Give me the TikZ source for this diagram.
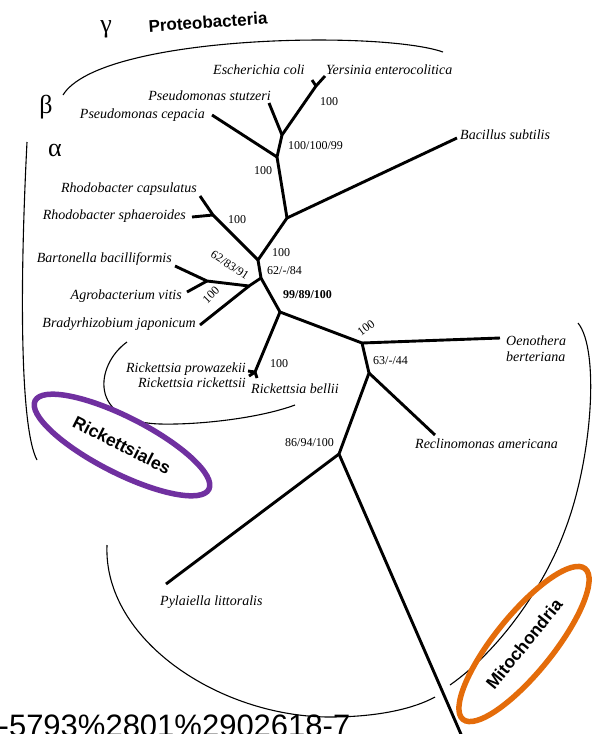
\documentclass[tikz,border=0pt]{standalone}
\usepackage{fontspec}
\setmainfont{Liberation Serif}
\setsansfont{Liberation Sans}
\usetikzlibrary{shapes.geometric}
\definecolor{cladepurple}{RGB}{112,48,160}
\definecolor{cladeorange}{RGB}{228,108,10}
\begin{document}
\begin{tikzpicture}[x=1pt,y=-1pt,
  branch/.style={line width=2.9pt,line join=round},
  bracket/.style={line width=1.1pt},
  taxon/.style={inner sep=0pt,font=\fontsize{14}{16}\selectfont\itshape},
  boot/.style={inner sep=0pt,font=\fontsize{12}{14}\selectfont},
  greek/.style={inner sep=0pt,font=\fontsize{26}{28}\selectfont},
  clade/.style={draw,ellipse,line width=5.5pt,inner sep=0pt,
    font=\fontsize{17.5}{19}\selectfont\sffamily\bfseries},
]
\fill[white] (0,0) rectangle (592,734);
\useasboundingbox (0,0) rectangle (592,734);

% ---- group brackets ----
\draw[bracket] (63,95) .. controls (100,35) and (380,30) .. (443,52);
\draw[bracket] (27,142) .. controls (19,300) and (21,430) .. (37,460);
\draw[bracket] (127,342) .. controls (95,365) and (88,422) .. (160,424)
               .. controls (200,425) and (260,418) .. (295,405);
\draw[bracket] (578,323) .. controls (600,350) and (592,460) .. (565,530)
               .. controls (545,585) and (500,650) .. (450,685);
\draw[bracket] (107,545) .. controls (103,640) and (220,717) .. (330,717)
               .. controls (380,717) and (415,708) .. (435,697);

% ---- tree nodes ----
\coordinate (nEY) at (316,86);
\coordinate (tEcoli) at (312,80);
\coordinate (tYers) at (325,76);
\coordinate (nPs) at (282,135);
\coordinate (tStutz) at (269,103);
\coordinate (nCep) at (277,157);
\coordinate (tCep) at (212,115);
\coordinate (nBac) at (287,218);
\coordinate (tBac) at (457,138);
\coordinate (n1) at (258,260);
\coordinate (nRh) at (213,215);
\coordinate (tCaps) at (200,196);
\coordinate (tSph) at (192,217);
\coordinate (n2) at (261,278);
\coordinate (nBB) at (249,286);
\coordinate (nBA) at (207,281);
\coordinate (tBart) at (175,266);
\coordinate (tAgro) at (187,292);
\coordinate (tBrady) at (200,325);
\coordinate (n3) at (280,312);
\coordinate (nRi) at (255,372);
\coordinate (tProw) at (248,371);
\coordinate (tRick) at (249,376);
\coordinate (tBell) at (257,378);
\coordinate (n4) at (362,343);
\coordinate (tOeno) at (500,338);
\coordinate (n5) at (369,373);
\coordinate (tRecl) at (435,435);
\coordinate (n6) at (339,454);
\coordinate (tPyl) at (166,584);
\coordinate (tLong) at (467,748);

% ---- branches ----
\draw[branch] (tYers) -- (nEY) -- (nPs) -- (nCep) -- (nBac) -- (n1) -- (n2) -- (n3) -- (n4) -- (n5) -- (n6) -- (tLong);
\draw[branch] (tEcoli) -- (nEY);
\draw[branch] (tStutz) -- (nPs);
\draw[branch] (tCep) -- (nCep);
\draw[branch] (nBac) -- (tBac);
\draw[branch] (tCaps) -- (nRh) -- (n1);
\draw[branch] (tSph) -- (nRh);
\draw[branch] (tBart) -- (nBA) -- (nBB) -- (n2);
\draw[branch] (tAgro) -- (nBA);
\draw[branch] (tBrady) -- (nBB);
\draw[branch] (n3) -- (nRi);
\draw[branch] (tProw) -- (nRi) -- (tBell);
\draw[branch] (tRick) -- (nRi);
\draw[branch] (n4) -- (tOeno);
\draw[branch] (n5) -- (tRecl);
\draw[branch] (n6) -- (tPyl);

% ---- taxon names ----
\node[taxon,anchor=base west] (lEcoli) at (213,74) {Escherichia coli};
\node[taxon,anchor=base west] (lYers) at (326,74) {Yersinia enterocolitica};
\node[taxon,anchor=base east] (lStutz) at (271,100) {Pseudomonas stutzeri};
\node[taxon,anchor=base east] (lCep) at (205,118) {Pseudomonas cepacia};
\node[taxon,anchor=base west] (lBac) at (460,139) {Bacillus subtilis};
\node[taxon,anchor=base east] (lCaps) at (197,192) {Rhodobacter capsulatus};
\node[taxon,anchor=base east] (lSph) at (186,219) {Rhodobacter sphaeroides};
\node[taxon,anchor=base east] (lBart) at (172,262) {Bartonella bacilliformis};
\node[taxon,anchor=base east] (lAgro) at (182,299) {Agrobacterium vitis};
\node[taxon,anchor=base east] (lBrady) at (196,327) {Bradyrhizobium japonicum};
\node[taxon,anchor=base east] (lProw) at (246,372) {Rickettsia prowazekii};
\node[taxon,anchor=base east] (lRick) at (246,387) {Rickettsia rickettsii};
\node[taxon,anchor=base west] (lBell) at (251,393) {Rickettsia bellii};
\node[taxon,anchor=north west,align=left] (lOeno) at (506,336) {Oenothera\\berteriana};
\node[taxon,anchor=base west] (lRecl) at (415,448) {Reclinomonas americana};
\node[taxon,anchor=base west] (lPyl) at (160,605) {Pylaiella littoralis};

% ---- bootstrap values ----
\node[boot,anchor=base west] (bEY) at (320,105) {100};
\node[boot,anchor=base west] (bPs) at (288,149) {100/100/99};
\node[boot,anchor=base west] (bCep) at (254,174) {100};
\node[boot,anchor=base west] (bRh) at (228,223) {100};
\node[boot,anchor=base west] (b1) at (272,256) {100};
\node[boot,anchor=base west] (b2) at (267,274) {62/-/84};
\node[boot,rotate=-33] (bBB) at (230,265) {62/83/91};
\node[boot,rotate=45] (bBA) at (211,295) {100};
\node[boot,anchor=base west,font=\fontsize{12}{14}\selectfont\bfseries] (b3) at (283,298) {99/89/100};
\node[boot,anchor=base west] (bRi) at (270,367) {100};
\node[boot,rotate=37] (b4) at (366,328) {100};
\node[boot,anchor=base west] (b5) at (373,364) {63/-/44};
\node[boot,anchor=base west] (b6) at (285,446) {86/94/100};

% ---- group names ----
\node[greek] (gGamma) at (106,29) {γ};
\node[greek] (gBeta) at (46,107) {β};
\node[greek] (gAlpha) at (55,150) {α};
\node[inner sep=0pt,rotate=4,font=\fontsize{17}{19}\selectfont\sffamily\bfseries] (proteo) at (208,22) {Proteobacteria};

% ---- highlighted clades ----
\node[clade,draw=cladepurple,minimum width=195pt,minimum height=56pt,rotate=-27] (rickettsiales) at (122,445) {Rickettsiales};
\node[clade,draw=cladeorange,minimum width=194pt,minimum height=58pt,rotate=51] (mitochondria) at (524,644) {Mitochondria};

% ---- source reference ----
\node[anchor=base west,inner sep=0pt,font=\fontsize{31}{34}\selectfont\sffamily] (ref) at (-1.5,736) {-5793\%2801\%2902618-7};
\end{tikzpicture}
\end{document}
